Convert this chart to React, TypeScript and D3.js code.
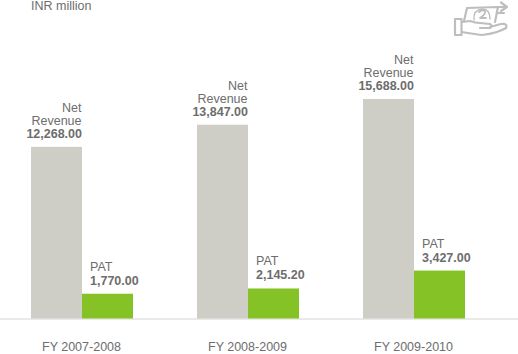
import React from "react";
import * as d3 from "d3";

const years = ["FY 2007-2008", "FY 2008-2009", "FY 2009-2010"];
const revenue = [12268, 13847, 15688];
const pat = [1770, 2145.2, 3427];
const revenueLabels = ["12,268.00", "13,847.00", "15,688.00"];
const patLabels = ["1,770.00", "2,145.20", "3,427.00"];
const unitLabel = "INR million";

const W = 518, H = 354, base = 318.5;
const FONT = "'Liberation Sans', Arial, sans-serif";
const y = d3.scaleLinear().domain([0, 15688]).range([base, 99]);
const x = d3.scaleBand<string>().domain(years).range([31, 529]).paddingInner(0).paddingOuter(0);
const barW = 51;
const txt = "#6d6d6d";

function Icon() {
  return (
    <g fill="none" stroke="#bebebe" strokeWidth={2.2} strokeLinejoin="round" strokeLinecap="round" transform="translate(418,0)">
      <rect x={37} y={19} width={6.5} height={16} />
      <path d="M44 22 L52 21 Q57 23 62 23 L72 24 Q75 26 72 28 L62 28 M72 27 L83 24 Q90 23 88 28 Q80 33 64 35 Q56 34 44 32" />
      <path d="M46 21 L49 8 L80 7 L77 22" />
      <path d="M78 7 L88 7 M83 2.5 L89 7 L83 11" />
      <path d="M79 13 L86 13" />
      <path d="M61 12 Q64 9 67 11 Q68 14 62 18 L68 18" strokeWidth={1.8} />
      <path d="M56 20 Q55 10 64 9 Q72 9 72 19" strokeWidth={1.4} />
    </g>
  );
}

export default function App() {
  return (
    <svg width={W} height={H} viewBox={`0 0 ${W} ${H}`} style={{ position: "fixed", left: 0, top: 0, background: "#fff" }} fontFamily={FONT} fontSize={12.5} fill={txt}>
      <text x={31} y={10}>{unitLabel}</text>
      <Icon />
      <line x1={0} x2={W} y1={base + 0.5} y2={base + 0.5} stroke="#e2e2e0" strokeWidth={1.5} />
      {years.map((yr, i) => {
        const x0 = x(yr)!;
        const top = y(revenue[i]);
        const pTop = y(pat[i]);
        return (
          <g key={yr}>
            <rect x={x0} y={top} width={barW} height={base - top} fill="#cfcec6" />
            <rect x={x0 + barW} y={pTop} width={barW} height={base - pTop} fill="#84c225" />
            <text x={x0 + barW - 0.5} y={top - 35} textAnchor="end">Net</text>
            <text x={x0 + barW - 0.5} y={top - 22} textAnchor="end">Revenue</text>
            <text x={x0 + barW} y={top - 9} textAnchor="end" fontWeight="bold">{revenueLabels[i]}</text>
            <text x={x0 + barW + 8} y={pTop - 23}>PAT</text>
            <text x={x0 + barW + 8} y={pTop - 9} fontWeight="bold">{patLabels[i]}</text>
            <text x={x0 + barW - 0.5} y={351} textAnchor="middle">{yr}</text>
          </g>
        );
      })}
    </svg>
  );
}
